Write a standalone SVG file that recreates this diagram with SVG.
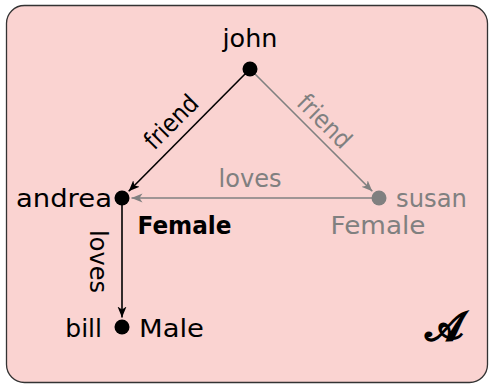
<svg xmlns="http://www.w3.org/2000/svg" width="490" height="388" viewBox="0 0 490 388">
<style>
text{font-family:"DejaVu Sans","Liberation Sans",sans-serif;font-size:25px;fill:#000}
.g{fill:#808080}
.b{font-weight:bold}
.e{fill:none;stroke-width:1.6}
.k{stroke:#000}
.gr{stroke:#808080}
</style>
<defs>
<marker id="ak" markerUnits="userSpaceOnUse" markerWidth="12" markerHeight="10" viewBox="-11 -5 12 10" refX="0" refY="0" orient="auto"><path d="M0,0 L-11,-4.5 L-8,0 L-11,4.5 z" fill="#000"/></marker>
<marker id="ag" markerUnits="userSpaceOnUse" markerWidth="12" markerHeight="10" viewBox="-11 -5 12 10" refX="0" refY="0" orient="auto"><path d="M0,0 L-11,-4.5 L-8,0 L-11,4.5 z" fill="#808080"/></marker>
</defs>
<rect id="frame" x="6.5" y="5.5" width="481" height="377" rx="18" fill="#fad3d1" stroke="#333" stroke-width="1.3"/>
<g id="edges">
<path class="e k" d="M250,69 L128.7,191.3" marker-end="url(#ak)"/>
<path class="e gr" d="M250,69 L372.3,191.3" marker-end="url(#ag)"/>
<path class="e gr" d="M379,198 L131.5,198" marker-end="url(#ag)"/>
<path class="e k" d="M122,198 L122,317.5" marker-end="url(#ak)"/>
<text transform="translate(177.2,127.9) rotate(-45)" text-anchor="middle" textLength="65" lengthAdjust="spacingAndGlyphs">friend</text>
<text class="g" transform="translate(318.4,127.2) rotate(45)" text-anchor="middle" textLength="65" lengthAdjust="spacingAndGlyphs">friend</text>
<text class="g" x="250" y="186.7" text-anchor="middle" textLength="63" lengthAdjust="spacingAndGlyphs">loves</text>
<text transform="translate(90,261.5) rotate(90)" text-anchor="middle" textLength="63" lengthAdjust="spacingAndGlyphs">loves</text>
</g>
<g id="john"><circle cx="250" cy="69" r="7.5"/><text x="250" y="46.7" text-anchor="middle" textLength="55" lengthAdjust="spacingAndGlyphs">john</text></g>
<g id="andrea"><circle cx="122" cy="198" r="7.5"/><text x="16" y="206.7" textLength="96" lengthAdjust="spacingAndGlyphs">andrea</text><text class="b" x="137.5" y="234" textLength="94" lengthAdjust="spacingAndGlyphs">Female</text></g>
<g id="susan"><circle cx="379" cy="198" r="7.5" fill="#808080"/><text class="g" x="396" y="206.7" textLength="71" lengthAdjust="spacingAndGlyphs">susan</text><text class="g" x="330.5" y="234" textLength="95" lengthAdjust="spacingAndGlyphs">Female</text></g>
<g id="bill"><circle cx="122" cy="327" r="7.5"/><text x="102" y="336.7" text-anchor="end">bill</text><text x="139" y="336.7" textLength="65" lengthAdjust="spacingAndGlyphs">Male</text></g>
<text x="425" y="340" textLength="39" lengthAdjust="spacingAndGlyphs" style="font-family:'DejaVu Serif','Noto Sans',serif;font-size:40px;font-weight:bold">𝓐</text>
</svg>
